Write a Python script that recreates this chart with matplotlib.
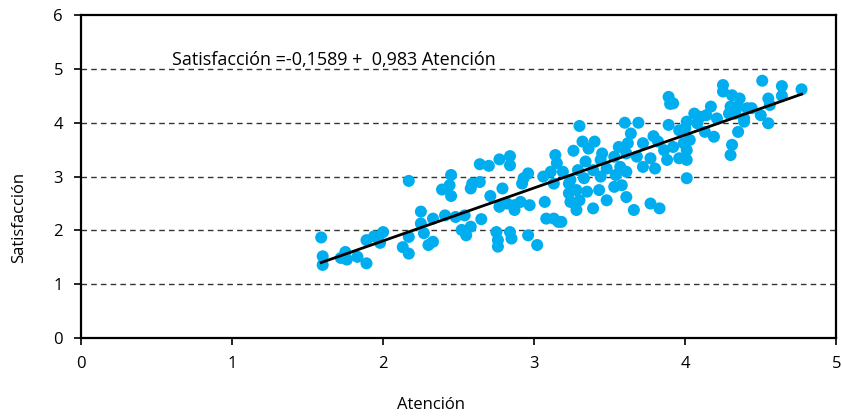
import matplotlib.pyplot as plt

# Datos
atencion = [1.59, 1.60, 1.60, 1.72, 1.75, 1.76, 1.83, 1.89, 1.89, 1.94, 1.98, 2.00,
            2.17, 2.13, 2.17, 2.17, 2.25, 2.25, 2.27, 2.30, 2.33, 2.33, 2.39, 2.41,
            2.45, 2.44, 2.45, 2.48, 2.52, 2.55, 2.58, 2.54, 2.58, 2.59, 2.64, 2.64,
            2.70, 2.77, 2.84, 2.84, 2.65, 2.71, 2.75, 2.76, 2.76, 2.77, 2.79, 2.82,
            2.84, 2.85, 2.87, 2.87, 2.91, 2.92, 2.93, 2.96, 2.97, 2.96, 3.02, 3.06,
            3.07, 3.11, 3.13, 3.14, 3.15, 3.08, 3.13, 3.16, 3.19, 3.23, 3.30, 3.60,
            3.69, 3.90, 3.89, 3.92, 3.89, 3.96, 3.64, 3.79, 3.32, 3.40, 3.26, 3.36,
            3.45, 3.56, 3.62, 3.72, 3.82, 3.86, 3.92, 3.99, 3.34, 3.44, 3.53, 3.61,
            3.68, 3.77, 3.88, 3.96, 3.29, 3.39, 3.48, 3.57, 3.72, 3.80, 3.24, 3.33,
            3.44, 3.54, 3.61, 4.01, 3.23, 3.28, 3.35, 3.43, 3.53, 3.58, 3.24, 3.30,
            3.28, 3.39, 3.48, 3.61, 3.66, 3.77, 3.83, 3.18, 4.25, 4.25, 4.51, 4.64,
            4.64, 4.77, 4.31, 4.36, 4.30, 4.35, 4.41, 4.44, 4.55, 4.56, 4.17, 4.06,
            4.10, 4.14, 4.29, 4.33, 4.21, 4.39, 4.50, 4.01, 4.08, 4.39, 4.00, 4.13,
            4.19, 4.03, 4.35, 4.55, 4.01, 4.01, 4.31, 4.30]
satisfaccion = [1.87, 1.52, 1.36, 1.49, 1.60, 1.46, 1.51, 1.39, 1.82, 1.89, 1.77, 1.97,
                2.92, 1.69, 1.57, 1.88, 2.35, 2.13, 1.95, 1.73, 1.79, 2.22, 2.76, 2.28,
                3.03, 2.84, 2.64, 2.25, 2.01, 1.91, 2.07, 2.28, 2.78, 2.87, 2.90, 3.23,
                3.20, 3.32, 3.38, 3.21, 2.21, 2.64, 1.97, 1.82, 1.70, 2.44, 2.78, 2.50,
                1.97, 1.85, 2.47, 2.38, 2.53, 2.87, 2.97, 3.06, 2.47, 1.91, 1.73, 3.00,
                2.53, 3.09, 2.87, 3.40, 3.25, 2.22, 2.22, 2.16, 3.09, 2.87, 3.94, 4.00,
                4.00, 4.35, 4.48, 4.36, 3.96, 3.86, 3.80, 3.75, 3.65, 3.65, 3.48, 3.52,
                3.43, 3.55, 3.62, 3.62, 3.65, 3.49, 3.55, 3.62, 3.28, 3.31, 3.37, 3.43,
                3.37, 3.34, 3.31, 3.34, 3.12, 3.12, 3.15, 3.18, 3.18, 3.15, 2.94, 2.97,
                3.00, 3.03, 3.09, 2.97, 2.69, 2.75, 2.72, 2.75, 2.81, 2.84, 2.53, 2.56,
                2.38, 2.41, 2.56, 2.62, 2.38, 2.50, 2.41, 2.16, 4.70, 4.58, 4.78, 4.68,
                4.50, 4.62, 4.51, 4.45, 4.30, 4.30, 4.27, 4.27, 4.45, 4.33, 4.30, 4.17,
                4.11, 4.14, 4.17, 4.17, 4.08, 4.08, 4.14, 4.02, 3.99, 4.02, 3.90, 3.83,
                3.74, 3.68, 3.83, 3.99, 3.49, 3.31, 3.59, 3.40]

intercepto = -0.1589
pendiente = 0.983

plt.rcParams['font.family'] = ['Open Sans', 'DejaVu Sans']

fig = plt.figure(figsize=(8.42, 4.17), dpi=100)
ax = fig.add_axes([0.0962, 0.189, 0.897, 0.775])

# lineas de referencia discontinuas
for yv in [1, 2, 3, 4, 5]:
    ax.axhline(yv, color='#333333', lw=1, ls=(0, (4, 3)), zorder=1)

ax.scatter(atencion, satisfaccion, s=75, color='#00AEEF', edgecolors='none', zorder=2)

# recta de regresion
x0, x1 = min(atencion), max(atencion)
ax.plot([x0, x1], [intercepto + pendiente * x0, intercepto + pendiente * x1],
        color='black', lw=2, zorder=3)

ax.text(0.60, 5.17, 'Satisfacción =-0,1589 +  0,983 Atención', fontsize=13,
        ha='left', va='center', zorder=4)

ax.set_xlim(0, 5)
ax.set_ylim(0, 6)
ax.set_xticks(range(6))
ax.set_yticks(range(7))
ax.tick_params(direction='out', length=5, width=1.2, labelsize=12, pad=8)
for sp in ax.spines.values():
    sp.set_linewidth(1.6)

ax.set_xlabel('Atención', fontsize=12)
ax.set_ylabel('Satisfacción', fontsize=12)
ax.xaxis.set_label_coords(0.464, -0.207)
ax.yaxis.set_label_coords(-0.082, 0.375)
ax.xaxis.label.set_va('center')
ax.yaxis.label.set_va('center')

fig.savefig('out.png', dpi=100)
